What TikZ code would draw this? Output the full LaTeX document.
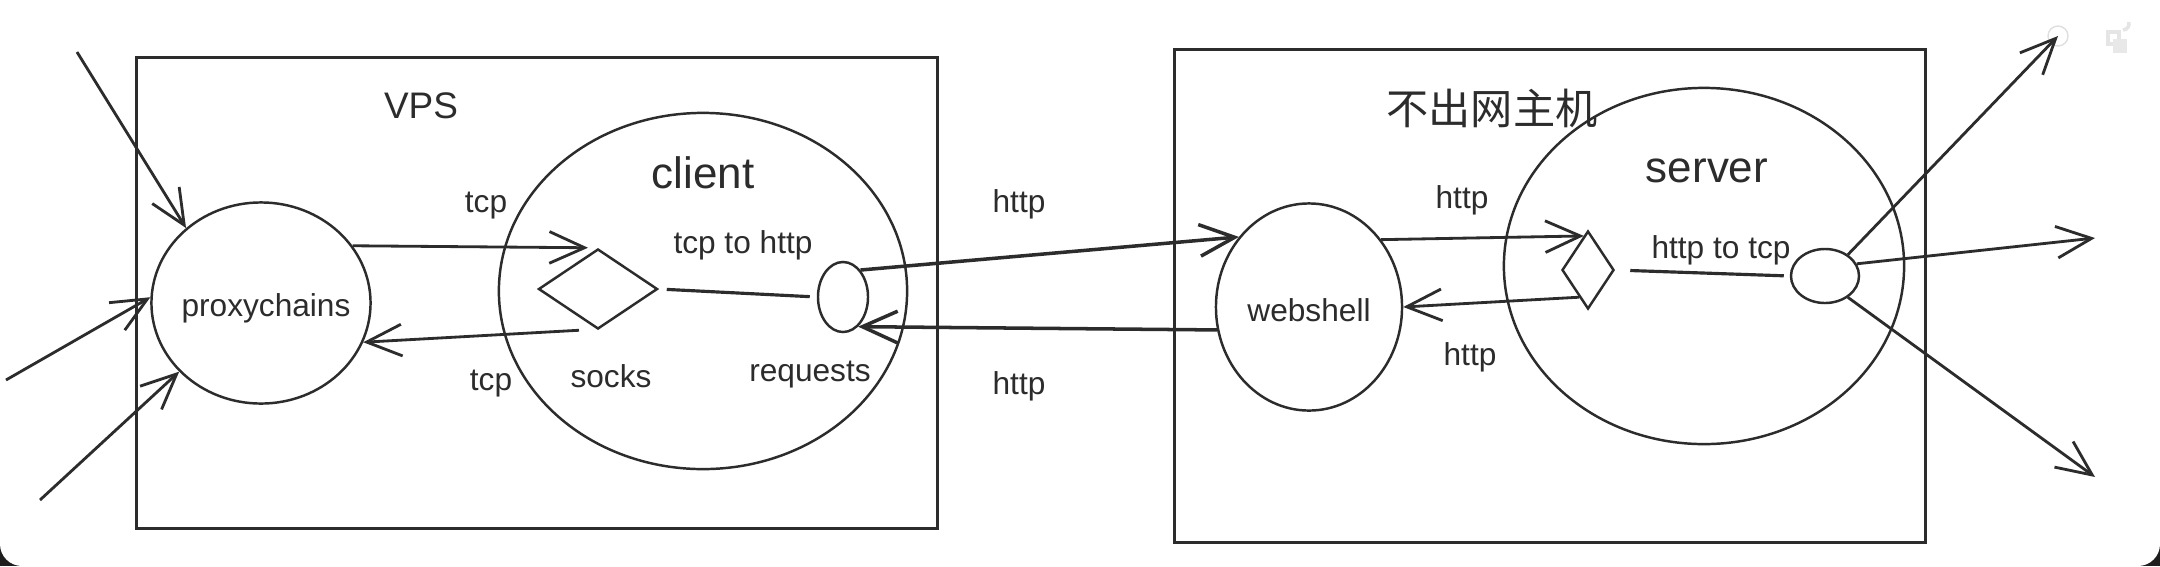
\documentclass[tikz,border=0pt]{standalone}
\usepackage{fontspec}
\setmainfont{Liberation Sans}
\newfontfamily\cjk{Noto Sans CJK SC}
\usetikzlibrary{shapes.geometric,arrows.meta}
\definecolor{ink}{HTML}{2C2C2C}
\definecolor{frame}{HTML}{1E1E1E}
\begin{document}
\begin{tikzpicture}[x=0.01cm,y=-0.01cm,
  box/.style={draw=ink, line width=0.9pt, inner sep=0pt},
  oval/.style={ellipse, draw=ink, line width=0.7pt, inner sep=0pt},
  dia/.style={diamond, draw=ink, line width=0.7pt, inner sep=0pt},
  ln/.style={draw=ink, line width=0.9pt},
  arr/.style={draw=ink, line width=0.8pt, -{Straight Barb[length=10pt,width=9pt]}},
  lbl/.style={text=ink, inner sep=0pt, font=\fontsize{9}{10}\selectfont},
  title/.style={text=ink, inner sep=0pt, font=\fontsize{12.5}{14}\selectfont}
]
\useasboundingbox (0,0) rectangle (2160,566);
\fill[frame] (0,0) rectangle (2160,566);
\fill[white, rounded corners=0.22cm] (0,-60) rectangle (2160,566);

% UI marks
\draw[gray!25, line width=0.4pt] (2058,36) circle (10);
\draw[gray!20, line width=1.3pt] (2108,32) rectangle (2119,44);
\fill[gray!18] (2113,39) rectangle (2127,53);
\draw[gray!20, line width=1pt] (2123,30) arc (90:-20:6);

% boxes
\node[box, minimum width=8.01cm, minimum height=4.70cm] (vps) at (537,293) {};
\node[box, minimum width=7.50cm, minimum height=4.93cm] (host) at (1550,296) {};

% VPS side
\node[text=ink, inner sep=0pt, font=\fontsize{10.5}{12}\selectfont] (vpsl) at (421,106) {VPS};
\node[oval, minimum width=2.19cm, minimum height=2.01cm] (prox) at (261,303) {};
\node[lbl] (proxl) at (266,308) {proxychains};
\node[oval, minimum width=4.08cm, minimum height=3.56cm] (client) at (703,291) {};
\node[title] (clientl) at (703,173) {client};
\node[dia, minimum width=1.19cm, minimum height=0.80cm] (sock) at (598,289) {};
\node[oval, minimum width=0.50cm, minimum height=0.70cm] (req) at (843,297) {};
\node[lbl] (t2h) at (743,245) {tcp to http};
\node[lbl] (sockl) at (611,376) {socks};
\node[lbl] (reql) at (810,375) {requests};
\node[lbl] (tcp1) at (486,206) {tcp};
\node[lbl] (tcp2) at (491,384) {tcp};

% between
\node[lbl] (http1) at (1019,204) {http};
\node[lbl] (http2) at (1019,386) {http};

% host side
\node[text=ink, inner sep=0pt, font=\cjk\fontsize{12}{14}\selectfont] (hostl) at (1492,108) {不出网主机};
\node[oval, minimum width=1.86cm, minimum height=2.07cm] (ws) at (1309,307) {};
\node[lbl] (wsl) at (1309,310) {webshell};
\node[oval, minimum width=4.00cm, minimum height=3.56cm] (srv) at (1704,266) {};
\node[title] (srvl) at (1707,171) {server};
\node[dia, minimum width=0.52cm, minimum height=0.78cm] (sd) at (1588,270) {};
\node[oval, minimum width=0.68cm, minimum height=0.54cm] (sc) at (1825,276) {};
\node[lbl] (h2t) at (1721,250) {http to tcp};
\node[lbl] (http3) at (1462,200) {http};
\node[lbl] (http4) at (1470,357) {http};

% free ends
\coordinate (in1) at (77,52);
\coordinate (in2) at (6,380);
\coordinate (in3) at (40,500);
\coordinate (out1) at (2058,36);
\coordinate (out2) at (2095,238);
\coordinate (out3) at (2095,477);

% connectors
\draw[arr] (in1) -- (prox.135);
\draw[arr] (in2) -- (prox.177);
\draw[arr] (in3) -- (prox.220);
\draw[arr] (prox.32) -- ([xshift=-1mm]sock.north);
\draw[arr] ([xshift=-1.9mm]sock.south) -- (prox.-21);
\draw[ln, shorten <=0.8mm, shorten >=0.7mm] (sock.east) -- (req.west);
\draw[arr, line width=1pt] (req.57) -- (ws.135);
\draw[arr, line width=1pt] (ws.194) -- (req.-63);
\draw[arr] (ws.43) -- (sd.97);
\draw[arr] (sd.-108) -- (ws.east);
\draw[ln, shorten <=1.5mm, shorten >=0.6mm] (sd.east) -- (sc.west);
\draw[arr] (sc.43) -- (out1);
\draw[arr] (sc.21) -- (out2);
\draw[arr] (sc.-43) -- (out3);
\end{tikzpicture}
\end{document}
